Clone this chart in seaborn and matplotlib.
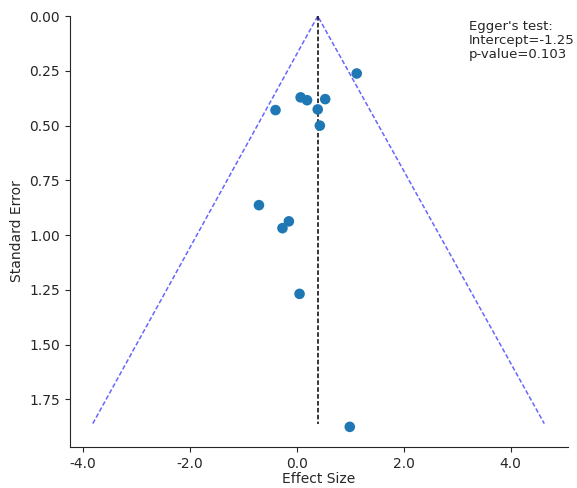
""" Funnel plot with Egger's test annotation. """

import numpy as np
import pandas as pd
import seaborn as sns
import matplotlib.pyplot as plt
from matplotlib.ticker import FormatStrFormatter

# Study effect sizes and standard errors
effect_size = [1.12, -0.40, 0.07, 0.19, 0.53, 0.39, 0.43, -0.71, -0.15, -0.27, 0.05, 0.99]
std_error = [0.262, 0.429, 0.371, 0.384, 0.379, 0.426, 0.500, 0.863, 0.937, 0.968, 1.268, 1.875]

# Funnel outline and pooled estimate
pooled = 0.39
funnel_x = [-3.82, pooled, 4.63]
funnel_se = [1.86, 0.0, 1.86]
egger_text = "Egger's test:\nIntercept=-1.25\np-value=0.103"


def main() -> None:
    """ Main function. """
    sns.set_style("ticks")
    df = pd.DataFrame({"Effect Size": effect_size, "Standard Error": std_error})

    fig, ax = plt.subplots(figsize=(5.77, 4.88), dpi=100)
    fig.subplots_adjust(left=0.121, right=0.984, bottom=0.084, top=0.967)

    sns.scatterplot(data=df, x="Effect Size", y="Standard Error", s=58,
                    color="#1f77b4", edgecolor="none", ax=ax, zorder=3)

    # Funnel lines
    ax.plot(funnel_x, funnel_se, color="blue", linestyle="--", lw=1.1,
            alpha=0.6, dashes=(3, 1.5))
    ax.plot([pooled, pooled], [0, funnel_se[0]], color="black", linestyle="--",
            lw=1.1, dashes=(3, 1.5))

    ax.set_xlim(-4.25, 5.07)
    ax.set_ylim(1.967, 0)
    ax.xaxis.set_major_formatter(FormatStrFormatter("%.1f"))
    ax.yaxis.set_major_formatter(FormatStrFormatter("%.2f"))
    ax.tick_params(labelsize=10)
    ax.set_xlabel("Effect Size", fontsize=10, labelpad=1)
    ax.set_ylabel("Standard Error", fontsize=10)

    ax.text(0.802, 0.99, egger_text, transform=ax.transAxes, fontsize=9.5,
            va="top", ha="left", linespacing=1.1)

    sns.despine(ax=ax)
    fig.savefig("out.png", dpi=100)


if __name__ == "__main__":
    main()
